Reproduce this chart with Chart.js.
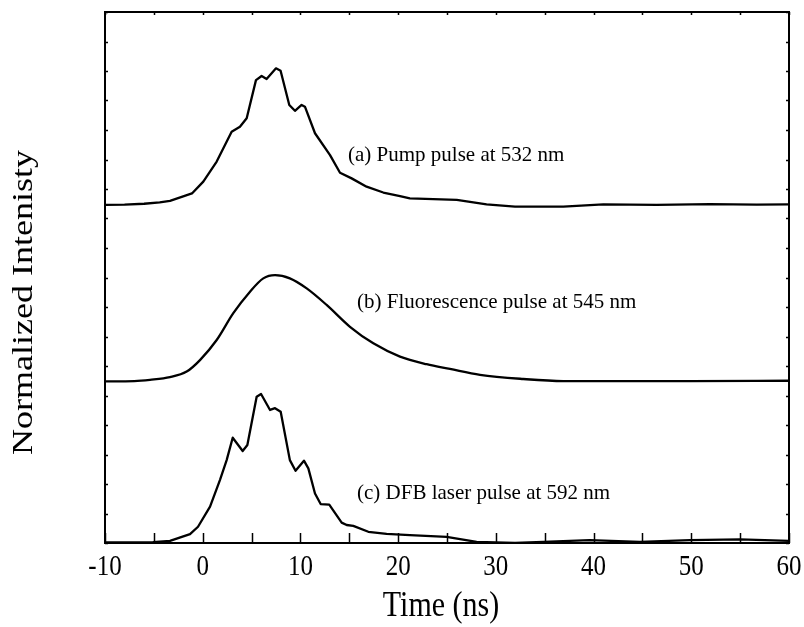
<!DOCTYPE html>
<html>
<head>
<meta charset="utf-8">
<script src="https://cdn.jsdelivr.net/npm/chart.js@4/dist/chart.umd.min.js"></script>
<style>
html,body{margin:0;padding:0;background:#fff;}
canvas{display:block;}
</style>
</head>
<body>
<canvas id="c" width="804" height="627"></canvas>
<script>
// ---- data (time in ns, intensity in offset normalized units) ----
const pumpTime = [-10, -8, -6, -4.4, -3.35, -1.1, 0.06, 1.43, 2.96, 3.81, 4.5, 5.45, 6.03, 6.54, 7.5, 7.97, 8.86, 9.44, 10.12, 10.46, 11.49, 13.03, 14.05, 15.24, 16.77, 18.48, 20.19, 21.2, 26.0, 29.05, 31.96, 36.9, 41.0, 46.45, 51.9, 56.7, 60];
const pumpValues = [11.46, 11.47, 11.5, 11.55, 11.6, 11.85, 12.25, 12.93, 13.94, 14.11, 14.40, 15.69, 15.83, 15.73, 16.09, 16.01, 14.85, 14.65, 14.85, 14.79, 13.89, 13.15, 12.55, 12.36, 12.08, 11.88, 11.76, 11.68, 11.63, 11.48, 11.40, 11.40, 11.48, 11.46, 11.49, 11.47, 11.48];

const fluorTime = [-10, -7, -5.4, -3.35, -1.64, -0.28, 1.43, 3.13, 4.84, 6.2, 7.4, 8.92, 10.64, 12.68, 15.07, 17.46, 20.19, 22.92, 25.3, 28.38, 32.8, 36.9, 43, 49.9, 60];
const fluorValues = [5.48, 5.49, 5.53, 5.62, 5.81, 6.20, 6.88, 7.79, 8.52, 8.97, 9.08, 8.97, 8.63, 8.07, 7.33, 6.77, 6.32, 6.06, 5.90, 5.70, 5.56, 5.49, 5.49, 5.49, 5.50];

const dfbTime = [-10, -6, -5.1, -3.35, -1.3, -0.48, 0.75, 1.77, 2.45, 3.07, 4.09, 4.57, 5.52, 5.97, 6.89, 7.40, 7.98, 8.92, 9.5, 10.36, 10.81, 11.49, 12.07, 12.95, 14.22, 14.73, 15.41, 16.95, 18.82, 21.2, 24.96, 28.03, 31.96, 34.86, 39.6, 44.75, 49.87, 54.99, 60];
const dfbValues = [0.02, 0.02, 0.03, 0.07, 0.30, 0.55, 1.23, 2.14, 2.81, 3.57, 3.12, 3.32, 4.96, 5.05, 4.51, 4.57, 4.45, 2.81, 2.45, 2.79, 2.53, 1.68, 1.32, 1.30, 0.69, 0.61, 0.58, 0.38, 0.31, 0.27, 0.21, 0.04, 0.0, 0.04, 0.10, 0.04, 0.10, 0.12, 0.07];

const xTickStep = 5;
const xLabelStep = 10;
const curveLabels = ["(a) Pump pulse at 532 nm", "(b) Fluorescence pulse at 545 nm", "(c) DFB laser pulse at 592 nm"];
const xTitle = "Time (ns)";
const yTitle = "Normalized Intenisty";

// label anchor positions (data coordinates)
const labelAnchors = [{x: 14.87, y: 13.15}, {x: 15.79, y: 8.14}, {x: 15.79, y: 1.69}];

const SERIF = "'Liberation Serif', 'Times New Roman', serif";
const STRETCH = 1.2; // axis text in the reference is drawn taller than wide

function toPoints(xs, ys) { return xs.map((x, i) => ({x: x, y: ys[i]})); }

const framePlugin = {
  id: 'frame',
  afterDatasetsDraw(chart) {
    const ctx = chart.ctx;
    const a = chart.chartArea;
    const xs = chart.scales.x, ys = chart.scales.y;
    ctx.save();
    ctx.strokeStyle = '#000';
    // ticks
    ctx.lineWidth = 1.5;
    ctx.beginPath();
    xs.ticks.forEach(t => {
      const px = Math.round(xs.getPixelForValue(t.value)) + 0.5;
      ctx.moveTo(px, a.bottom); ctx.lineTo(px, a.bottom - 10);
      ctx.moveTo(px, a.top); ctx.lineTo(px, a.top + 3);
    });
    ys.ticks.forEach(t => {
      const py = Math.round(ys.getPixelForValue(t.value)) + 0.5;
      ctx.moveTo(a.left, py); ctx.lineTo(a.left + 3, py);
      ctx.moveTo(a.right, py); ctx.lineTo(a.right - 3, py);
    });
    ctx.stroke();
    // frame
    ctx.lineWidth = 2;
    ctx.strokeRect(a.left, a.top, a.right - a.left, a.bottom - a.top);

    ctx.fillStyle = '#000';
    // x tick labels
    ctx.font = "25px " + SERIF;
    ctx.textAlign = 'center';
    ctx.textBaseline = 'middle';
    xs.ticks.forEach(t => {
      if (t.value % xLabelStep !== 0) return;
      ctx.save();
      ctx.translate(xs.getPixelForValue(t.value), a.bottom + 24);
      ctx.scale(1, STRETCH);
      ctx.fillText(String(t.value), 0, 0);
      ctx.restore();
    });
    // x title
    ctx.font = "30px " + SERIF;
    ctx.save();
    ctx.translate((a.left + a.right) / 2 - 6, a.bottom + 64);
    ctx.scale(1, STRETCH);
    ctx.fillText(xTitle, 0, 0);
    ctx.restore();
    // y title
    ctx.save();
    ctx.translate(24, (a.top + a.bottom) / 2 + 25);
    ctx.rotate(-Math.PI / 2);
    ctx.scale(STRETCH, 1);
    ctx.fillText(yTitle, 0, 0);
    ctx.restore();

    // curve labels
    ctx.font = "21px " + SERIF;
    ctx.textAlign = 'left';
    ctx.textBaseline = 'middle';
    curveLabels.forEach((txt, i) => {
      const p = labelAnchors[i];
      ctx.fillText(txt, xs.getPixelForValue(p.x), ys.getPixelForValue(p.y));
    });
    ctx.restore();
  }
};

function ds(xs, ys, smooth) {
  return {
    data: toPoints(xs, ys),
    borderColor: '#000',
    borderWidth: 2.3,
    pointRadius: 0,
    fill: false,
    tension: smooth ? 0.4 : 0,
    cubicInterpolationMode: smooth ? 'monotone' : 'default',
    borderJoinStyle: 'round'
  };
}

new Chart(document.getElementById('c'), {
  type: 'line',
  data: {
    datasets: [
      ds(pumpTime, pumpValues, false),
      ds(fluorTime, fluorValues, true),
      ds(dfbTime, dfbValues, false)
    ]
  },
  options: {
    responsive: false,
    animation: false,
    events: [],
    layout: {padding: {top: 12, right: 15, left: 0, bottom: 0}},
    plugins: {legend: {display: false}, tooltip: {enabled: false}},
    scales: {
      x: {
        type: 'linear', min: -10, max: 60,
        grid: {display: false},
        border: {display: false},
        ticks: {stepSize: xTickStep, autoSkip: false, display: false},
        title: {display: false},
        afterFit: s => { s.height = 84; s.paddingLeft = 0; s.paddingRight = 0; }
      },
      y: {
        type: 'linear', min: 0, max: 18,
        grid: {display: false},
        border: {display: false},
        ticks: {display: false, stepSize: 1},
        title: {display: false},
        afterFit: s => { s.width = 105; s.paddingTop = 0; s.paddingBottom = 0; }
      }
    }
  },
  plugins: [framePlugin]
});
</script>
</body>
</html>
